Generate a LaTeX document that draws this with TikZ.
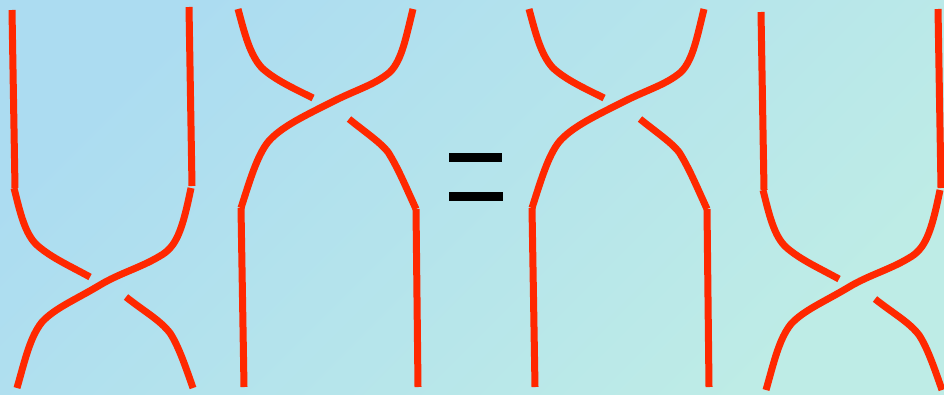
\documentclass[tikz,border=0pt]{standalone}
\usetikzlibrary{shadings}
\definecolor{bgA}{RGB}{172,220,241}
\definecolor{bgB}{RGB}{190,236,230}
\definecolor{strandred}{RGB}{255,40,0}
\tikzset{
  strand/.style={draw=strandred, line width=7pt, line cap=butt, line join=round},
  bar/.style={fill=black},
  lowerX/.pic={
    \draw[strand] (12,10) -- (15,188);
    \draw[strand] (189,7) -- (192,186);
    \draw[strand] (14,188) .. controls (20,212) and (25,235) .. (38,246)
                           .. controls (52,258) and (70,266) .. (90,277);
    \draw[strand] (191,188) .. controls (182,232) and (176,247) .. (160,256)
                            .. controls (140,268) and (120,273) .. (100,285)
                            .. controls (75,300) and (55,308) .. (42,322)
                            .. controls (30,337) and (25,360) .. (17,388);
    \draw[strand] (126,297) .. controls (145,312) and (160,320) .. (170,333)
                            .. controls (178,345) and (185,365) .. (193,388);
  },
  upperX/.pic={
    \draw[strand] (238,9) .. controls (245,35) and (250,55) .. (262,68)
                          .. controls (275,80) and (295,89) .. (313,98);
    \draw[strand] (413,9) .. controls (406,37) and (402,60) .. (390,72)
                          .. controls (375,85) and (355,90) .. (330,103)
                          .. controls (300,118) and (280,128) .. (268,142)
                          .. controls (257,156) and (250,180) .. (241,208);
    \draw[strand] (349,119) .. controls (365,132) and (380,142) .. (388,152)
                            .. controls (398,168) and (405,185) .. (416,209);
    \draw[strand] (241,208) -- (244,387);
    \draw[strand] (416,209) -- (418,387);
  }
}
\begin{document}
\begin{tikzpicture}[x=1pt,y=-1pt]
  \useasboundingbox (0,0) rectangle (944,394);
  \shade[left color=bgA, right color=bgB, shading angle=45] (0,0) rectangle (944,394);
  \begin{scope}
    \clip (0,0) rectangle (944,394);
    \pic at (0,0) {lowerX};
    \pic at (0,0) {upperX};
    \pic at (291,0) {upperX};
    \pic at (749,2) {lowerX};
  \end{scope}
  \fill[bar] (449,153) rectangle (502,162);
  \fill[bar] (449,192) rectangle (503,201);
\end{tikzpicture}
\end{document}
